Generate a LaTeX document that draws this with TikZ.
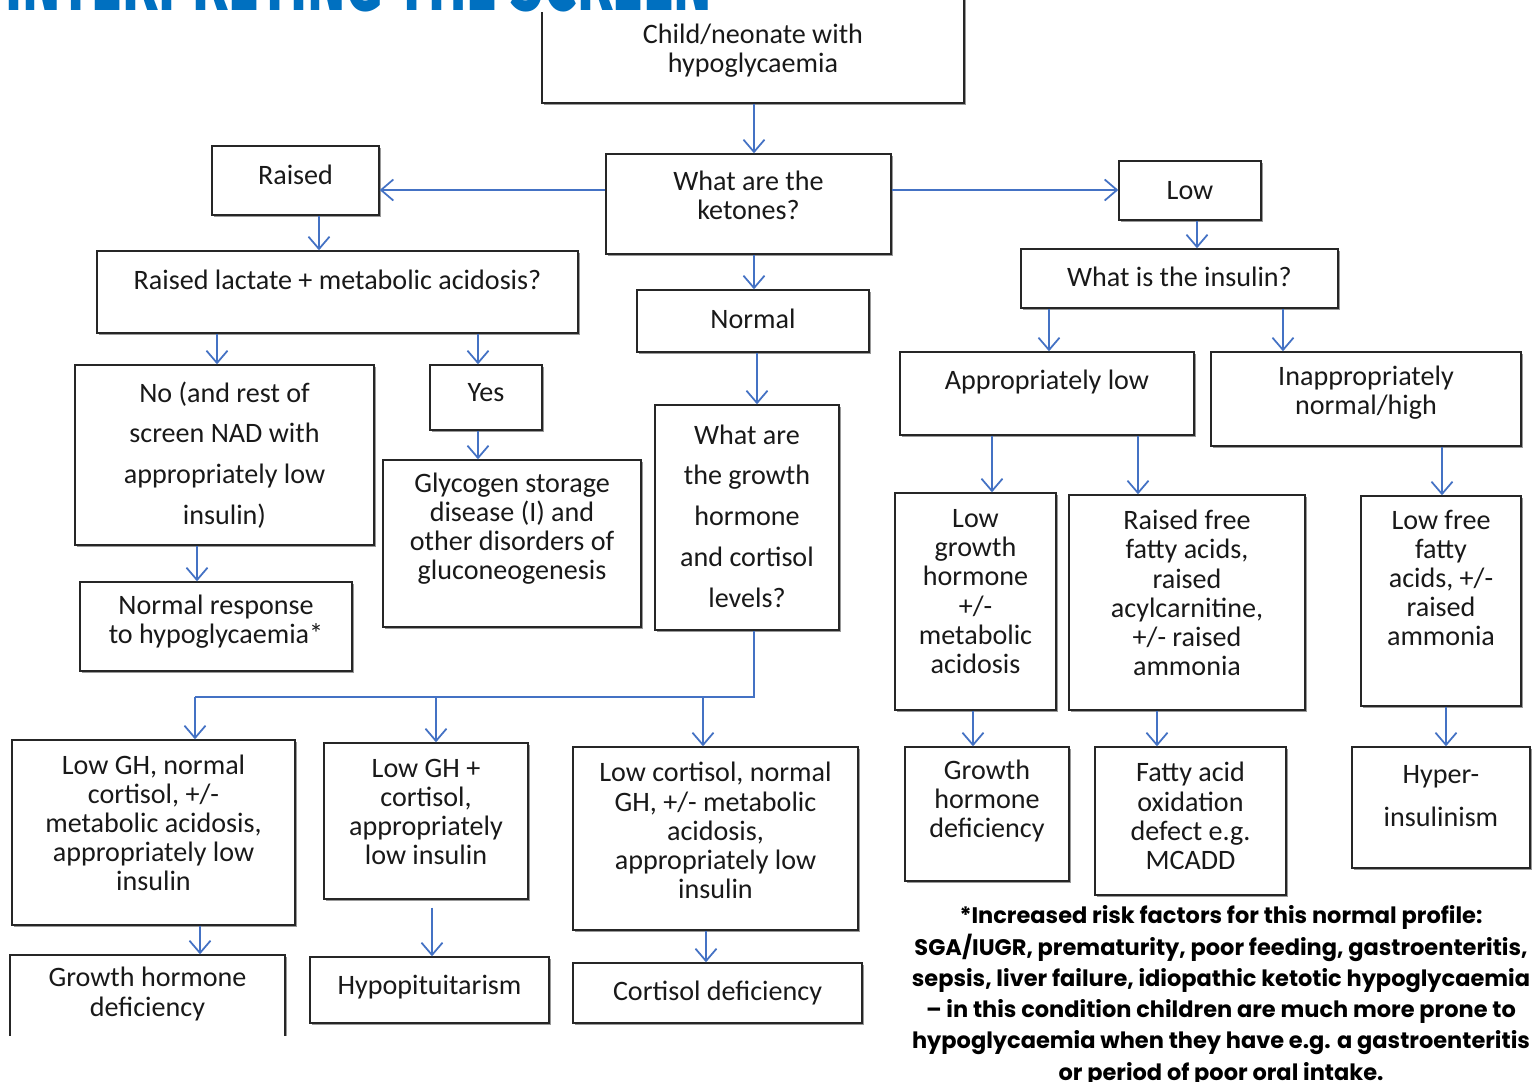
\documentclass[tikz,border=0pt]{standalone}
\usepackage{fontspec}
\setmainfont{Carlito}
\newfontfamily\notefont{Poppins}
\newfontfamily\headfont{Fira Sans}
\usetikzlibrary{arrows.meta,fit,shadows}
\definecolor{arrblue}{HTML}{4472C4}
\definecolor{headblue}{HTML}{0070C0}

\begin{document}
\begin{tikzpicture}[x=0.02cm,y=-0.02cm]
  \tikzset{bx/.style={draw=black!85,line width=0.8pt,fill=white,inner sep=0pt,
      drop shadow={shadow xshift=1.1pt,shadow yshift=-1.1pt,fill=black!40,opacity=1}},
    txt/.style={align=center,text=black!90,inner sep=0pt,font=\fontsize{16}{16.6}\selectfont},
    wide/.style={txt,font=\fontsize{16}{23.2}\selectfont},
    arr/.style={draw=arrblue,line width=1pt,-{Straight Barb[length=7pt,width=12pt]}},
    ln/.style={draw=arrblue,line width=1pt}}
  \useasboundingbox (0,0) rectangle (1532,1082);
  \clip (0,0) rectangle (1532,1082);
  \node (chi) [bx,fit={(542,-10)(964,103)},label={[txt,yshift=-0.08cm]center:Child/neonate with\\hypoglycaemia}] {};
  \node (ttl) [anchor=south west,inner sep=0pt,fill=white,text=headblue] at (5,12)
    {\resizebox{14.14cm}{1.3cm}{\headfont\bfseries INTERPRETING THE SCREEN}};
  \node (ket) [bx,fit={(606,154)(891,254)},label={[txt,yshift=0.18cm]center:What are the\\ketones?}] {};
  \node (rai) [bx,fit={(212,146)(379,215)},label={[txt,yshift=0.11cm]center:Raised}] {};
  \node (low) [bx,fit={(1119,161)(1261,220)},label={[txt]center:Low}] {};
  \node (lac) [bx,fit={(97,251)(578,333)},label={[txt,yshift=0.24cm]center:Raised lactate + metabolic acidosis?}] {};
  \node (nor) [bx,fit={(637,290)(869,352)},label={[txt,yshift=0.04cm]center:Normal}] {};
  \node (ins) [bx,fit={(1021,249)(1338,308)},label={[txt,yshift=0.03cm]center:What is the insulin?}] {};
  \node (nad) [bx,fit={(75,365)(374,545)},label={[wide]center:No (and rest of\\screen NAD with\\appropriately low\\insulin)}] {};
  \node (yes) [bx,fit={(430,365)(542,430)},label={[txt,yshift=0.09cm]center:Yes}] {};
  \node (gly) [bx,fit={(383,460)(641,627)},label={[txt,yshift=0.3cm]center:Glycogen storage\\disease (I) and\\other disorders of\\gluconeogenesis}] {};
  \node (gq) [bx,fit={(655,405)(839,630)},label={[wide,yshift=0.03cm]center:What are\\the growth\\hormone\\and cortisol\\levels?}] {};
  \node (nrs) [bx,fit={(80,582)(352,671)},label={[txt,yshift=0.09cm]center:Normal response\\to hypoglycaemia*}] {};
  \node (apl) [bx,fit={(900,352)(1194,435)},label={[txt,yshift=0.23cm]center:Appropriately low}] {};
  \node (inh) [bx,fit={(1211,352)(1521,446)},label={[txt,yshift=0.12cm]center:Inappropriately\\normal/high}] {};
  \node (lgh) [bx,fit={(895,493)(1056,710)},label={[txt,yshift=0.2cm]center:Low\\growth\\hormone\\+/-\\metabolic\\acidosis}] {};
  \node (rff) [bx,fit={(1069,495)(1305,710)},label={[txt,yshift=0.19cm]center:Raised free\\fatty acids,\\raised\\acylcarnitine,\\+/- raised\\ammonia}] {};
  \node (lff) [bx,fit={(1361,496)(1521,706)},label={[txt,yshift=0.46cm]center:Low free\\fatty\\acids, +/-\\raised\\ammonia}] {};
  \node (ghd) [bx,fit={(905,747)(1069,881)},label={[txt,yshift=0.26cm]center:Growth\\hormone\\deficiency}] {};
  \node (fao) [bx,fit={(1095,747)(1286,895)},label={[txt,yshift=0.1cm]center:Fatty acid\\oxidation\\defect e.g.\\MCADD}] {};
  \node (hyp) [bx,fit={(1352,747)(1530,868)},label={[txt,yshift=0.22cm,font=\fontsize{16}{24.4}\selectfont]center:Hyper-\\insulinism}] {};
  \node (lgn) [bx,fit={(12,740)(295,925)},label={[txt,yshift=0.19cm]center:Low GH, normal\\cortisol, +/-\\metabolic acidosis,\\appropriately low\\insulin}] {};
  \node (lgc) [bx,fit={(324,743)(528,899)},label={[txt,yshift=0.18cm]center:Low GH +\\cortisol,\\appropriately\\low insulin}] {};
  \node (lcn) [bx,fit={(573,747)(858,930)},label={[txt,yshift=0.16cm]center:Low cortisol, normal\\GH, +/- metabolic\\acidosis,\\appropriately low\\insulin}] {};
  \begin{scope}
    \clip (0,900) rectangle (300,1035);
    \node (ghd2) [bx,fit={(10,955)(285,1060)},label={[txt,yshift=0.27cm]center:Growth hormone\\deficiency}] {};
  \end{scope}
  \node (hpt) [bx,fit={(310,957)(549,1023)},label={[txt,yshift=0.06cm]center:Hypopituitarism}] {};
  \node (crd) [bx,fit={(573,963)(862,1023)},label={[txt]center:Cortisol deficiency}] {};
  \node (fn) [align=center,inner sep=0pt,font=\notefont\bfseries\fontsize{12.8}{17.8}\selectfont] at (1221,996)
    {*Increased risk factors for this normal profile:\\SGA/IUGR, prematurity, poor feeding, gastroenteritis,\\sepsis, liver failure, idiopathic ketotic hypoglycaemia\\– in this condition children are much more prone to\\hypoglycaemia when they have e.g. a gastroenteritis\\or period of poor oral intake.};
  \draw[arr] (chi.south -| 754,0) -- (ket.north -| 754,0);
  \draw[arr] (ket.west |- 0,190) -- (rai.east |- 0,190);
  \draw[arr] (ket.east |- 0,190) -- (low.west |- 0,190);
  \draw[arr] (ket.south -| 754,0) -- (nor.north -| 754,0);
  \draw[arr] (rai.south -| 319,0) -- (lac.north -| 319,0);
  \draw[arr] (lac.south -| 217,0) -- (nad.north -| 217,0);
  \draw[arr] (lac.south -| 478,0) -- (yes.north -| 478,0);
  \draw[arr] (yes.south -| 478,0) -- (gly.north -| 478,0);
  \draw[arr] (nad.south -| 197,0) -- (nrs.north -| 197,0);
  \draw[arr] (nor.south -| 757,0) -- (gq.north -| 757,0);
  \draw[arr] (low.south -| 1197,0) -- (ins.north -| 1197,0);
  \draw[arr] (ins.south -| 1049,0) -- (apl.north -| 1049,0);
  \draw[arr] (ins.south -| 1283,0) -- (inh.north -| 1283,0);
  \draw[arr] (apl.south -| 992,0) -- (lgh.north -| 992,0);
  \draw[arr] (apl.south -| 1138,0) -- (rff.north -| 1138,0);
  \draw[arr] (inh.south -| 1442,0) -- (lff.north -| 1442,0);
  \draw[arr] (lgh.south -| 973,0) -- (ghd.north -| 973,0);
  \draw[arr] (rff.south -| 1157,0) -- (fao.north -| 1157,0);
  \draw[arr] (lff.south -| 1446,0) -- (hyp.north -| 1446,0);
  \draw[arr] (lgn.south -| 200,0) -- (ghd2.north -| 200,0);
  \draw[arr,shorten <=0.16cm] (lgc.south -| 432,0) -- (hpt.north -| 432,0);
  \draw[arr] (lcn.south -| 706,0) -- (crd.north -| 706,0);
  \coordinate (br) at (754,697);
  \draw[ln] (gq.south -| br) -- (br) -- (br -| 195,0);
  \foreach \x/\n in {195/lgn,436/lgc,703/lcn}
    \draw[arr] (br -| \x,0) -- (\n.north -| \x,0);
\end{tikzpicture}
\end{document}
